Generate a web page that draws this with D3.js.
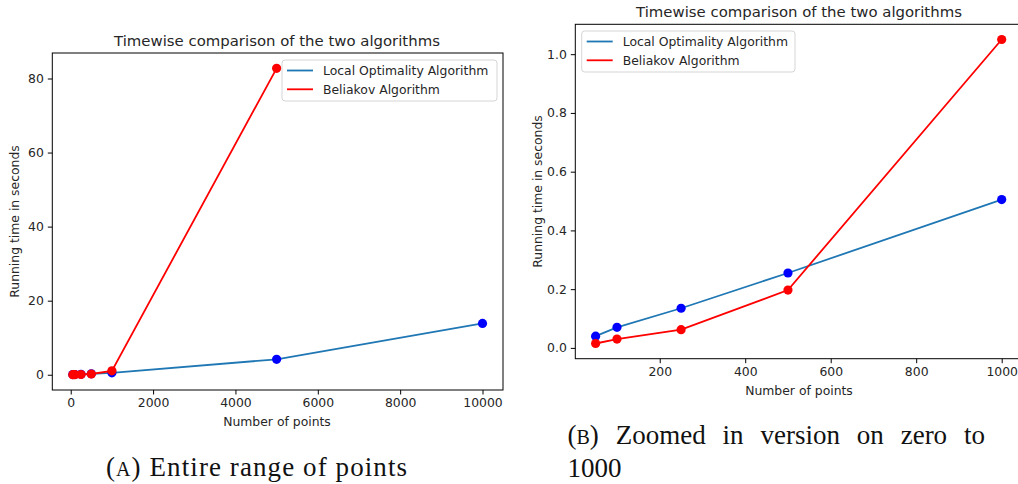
<!DOCTYPE html>
<html>
<head>
<meta charset="utf-8">
<script src="https://cdn.jsdelivr.net/npm/d3@7"></script>
<style>
  body { margin: 0; background: #fff; }
  svg { display: block; }
  .tick text { font-family: "DejaVu Sans", sans-serif; font-size: 12.4px; fill: #262626; }
  .lbl { font-family: "DejaVu Sans", sans-serif; font-size: 12.4px; fill: #262626; }
  .ttl { font-family: "DejaVu Sans", sans-serif; font-size: 14.9px; fill: #262626; }
  .cap { font-family: "Liberation Serif", serif; font-size: 27px; fill: #111; }
</style>
</head>
<body>
<svg width="1018" height="484"></svg>
<script>
// number of points tested
var pointsAll = [50, 100, 250, 500, 1000, 5000, 10000];
var pointsBel = [50, 100, 250, 500, 1000, 5000];
var pointsZoom = [50, 100, 250, 500, 1000];

// running times in seconds
var localTimes = [0.04, 0.07, 0.135, 0.255, 0.505, 4.17, 13.85];
var beliakovTimes = [0.015, 0.03, 0.062, 0.197, 1.05, 82.75];

// ticks
var xTicksA = [0, 2000, 4000, 6000, 8000, 10000];
var yTicksA = [0, 20, 40, 60, 80];
var xTicksB = [200, 400, 600, 800, 1000];
var yTicksB = [0.0, 0.2, 0.4, 0.6, 0.8, 1.0];

var seriesNames = ['Local Optimality Algorithm', 'Beliakov Algorithm'];
var lineColors = ['#1f77b4', 'red'];
var dotColors = ['blue', 'red'];

var svg = d3.select('svg');

// matplotlib style 5% margins
function padded(ext) {
    var m = (ext[1] - ext[0]) * 0.05;
    return [ext[0] - m, ext[1] + m];
}

function drawPanel(opt) {
    var g = svg.append('g');
    var x = d3.scaleLinear().domain(padded(opt.xExt)).range([opt.l, opt.r]);
    var y = d3.scaleLinear().domain(padded(opt.yExt)).range([opt.b, opt.t]);

    g.append('g')
        .attr('transform', 'translate(0,' + opt.b + ')')
        .call(d3.axisBottom(x).tickValues(opt.xTicks).tickSize(4.5).tickPadding(4).tickFormat(d3.format('d')))
        .call(function(a) { a.select('.domain').remove(); });
    g.append('g')
        .attr('transform', 'translate(' + opt.l + ',0)')
        .call(d3.axisLeft(y).tickValues(opt.yTicks).tickSize(4.5).tickPadding(4).tickFormat(opt.yFmt))
        .call(function(a) { a.select('.domain').remove(); });

    var line = d3.line().x(function(d) { return x(d[0]); }).y(function(d) { return y(d[1]); });
    var clip = 'clip' + opt.id;
    g.append('clipPath').attr('id', clip).append('rect')
        .attr('x', opt.l).attr('y', opt.t).attr('width', opt.r - opt.l).attr('height', opt.b - opt.t);
    var plot = g.append('g').attr('clip-path', 'url(#' + clip + ')');

    opt.series.forEach(function(s, i) {
        plot.append('path')
            .datum(s)
            .attr('d', line)
            .attr('fill', 'none')
            .attr('stroke', lineColors[i])
            .attr('stroke-width', 1.8);
        plot.selectAll('.dot' + i)
            .data(s)
            .enter().append('circle')
            .attr('class', 'dot' + i)
            .attr('cx', function(d) { return x(d[0]); })
            .attr('cy', function(d) { return y(d[1]); })
            .attr('r', 4.6)
            .attr('fill', dotColors[i]);
    });

    g.append('rect')
        .attr('x', opt.l).attr('y', opt.t)
        .attr('width', opt.r - opt.l).attr('height', opt.b - opt.t)
        .attr('fill', 'none').attr('stroke', '#000').attr('stroke-width', 1);

    // title and labels
    g.append('text').attr('class', 'ttl').attr('x', opt.titleX).attr('y', opt.t - 7)
        .attr('text-anchor', 'middle').text('Timewise comparison of the two algorithms');
    g.append('text').attr('class', 'lbl').attr('x', opt.titleX).attr('y', opt.b + 36)
        .attr('text-anchor', 'middle').text('Number of points');
    g.append('text').attr('class', 'lbl')
        .attr('transform', 'translate(' + (opt.l - 33) + ',' + ((opt.t + opt.b) / 2) + ') rotate(-90)')
        .attr('text-anchor', 'middle').text('Running time in seconds');

    // legend
    var lg = g.append('g').attr('transform', 'translate(' + opt.legX + ',' + opt.legY + ')');
    lg.append('rect').attr('width', opt.legW).attr('height', 41).attr('rx', 3)
        .attr('fill', '#fff').attr('fill-opacity', 0.8).attr('stroke', '#d5d5d5').attr('stroke-width', 1);
    seriesNames.forEach(function(n, i) {
        var yy = 10.5 + i * 18.8;
        lg.append('line').attr('x1', 5).attr('x2', 31).attr('y1', yy).attr('y2', yy)
            .attr('stroke', lineColors[i]).attr('stroke-width', 1.8);
        lg.append('text').attr('class', 'lbl').attr('x', 41).attr('y', yy + 4.4).text(n);
    });
}

var localA = pointsAll.map(function(p, i) { return [p, localTimes[i]]; });
var belA = pointsBel.map(function(p, i) { return [p, beliakovTimes[i]]; });
var localB = pointsZoom.map(function(p, i) { return [p, localTimes[i]]; });
var belB = pointsZoom.map(function(p, i) { return [p, beliakovTimes[i]]; });

drawPanel({
    id: 'a', l: 52.3, r: 503, t: 53, b: 390,
    xExt: d3.extent(pointsAll), yExt: [d3.min(beliakovTimes), d3.max(beliakovTimes)],
    xTicks: xTicksA, yTicks: yTicksA, yFmt: d3.format('d'),
    series: [localA, belA], titleX: 277, legX: 282, legY: 60, legW: 215
});
drawPanel({
    id: 'b', l: 575.3, r: 1022, t: 24.3, b: 358.7,
    xExt: d3.extent(pointsZoom), yExt: [d3.min(belB, function(d) { return d[1]; }), d3.max(belB, function(d) { return d[1]; })],
    xTicks: xTicksB, yTicks: yTicksB, yFmt: d3.format('.1f'),
    series: [localB, belB], titleX: 799, legX: 581.7, legY: 31, legW: 213.3
});

// captions (LaTeX subfigure style)
function caption(x, y, letter, rest) {
    var t = svg.append('text').attr('class', 'cap').attr('x', x).attr('y', y);
    t.append('tspan').text('(');
    t.append('tspan').attr('font-size', '20px').text(letter);
    t.append('tspan').text(') ' + rest);
    return t;
}
var capA = caption(106, 476, 'A', 'Entire range of points');
capA.attr('textLength', 301).attr('lengthAdjust', 'spacing');

var capB = caption(567.5, 444, 'B', 'Zoomed in version on zero to');
var wB = capB.node().getComputedTextLength();
capB.attr('word-spacing', (417.5 - wB) / 6);
svg.append('text').attr('class', 'cap').attr('x', 567.5).attr('y', 477).text('1000');
</script>
</body>
</html>
